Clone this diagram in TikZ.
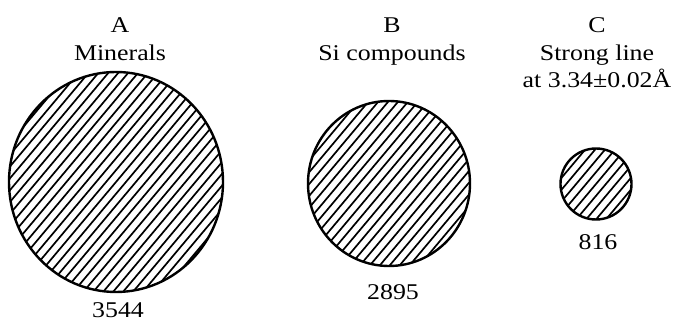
\documentclass[tikz,border=0pt]{standalone}
\usepackage{fontspec}
\setmainfont[FakeStretch=1.15]{Liberation Serif}
\begin{document}
\begin{tikzpicture}[x=1pt,y=1pt,
  lbl/.style={inner sep=0pt,anchor=base,font=\fontsize{22.5}{27}\selectfont},
  rim/.style={line width=2.4pt},
  hatchline/.style={line width=1.7pt}]
\useasboundingbox (0,0) rectangle (677,323);
% circles with hatching
\foreach \nm/\cx/\cy/\rx/\ry in {A/116/141/107/110, B/389/139.5/81/82.5, C/596/139/35.5/35.5}{
  \begin{scope}
    \clip (\cx,\cy) ellipse [x radius=\rx, y radius=\ry];
    \begin{scope}[shift={(\cx,\cy)},rotate=50]
      \foreach \k in {-16,...,16}{
        \draw[hatchline] (-120,\k*7.6) -- (120,\k*7.6);
      }
    \end{scope}
  \end{scope}
  \draw[rim] (\cx,\cy) ellipse [x radius=\rx, y radius=\ry];
}
% labels
\node[lbl] (la) at (120,290) {A};
\node[lbl] (lam) at (120,262) {Minerals};
\node[lbl] (na) at (118,5) {3544};
\node[lbl] (lb) at (392,290) {B};
\node[lbl] (lbm) at (392,262) {Si compounds};
\node[lbl] (nb) at (393,23) {2895};
\node[lbl] (lc) at (597,290) {C};
\node[lbl] (lcm) at (597,262) {Strong line};
\node[lbl] (lcn) at (597,235) {at 3.34±0.02Å};
\node[lbl] (nc) at (598,73) {816};
\end{tikzpicture}
\end{document}
